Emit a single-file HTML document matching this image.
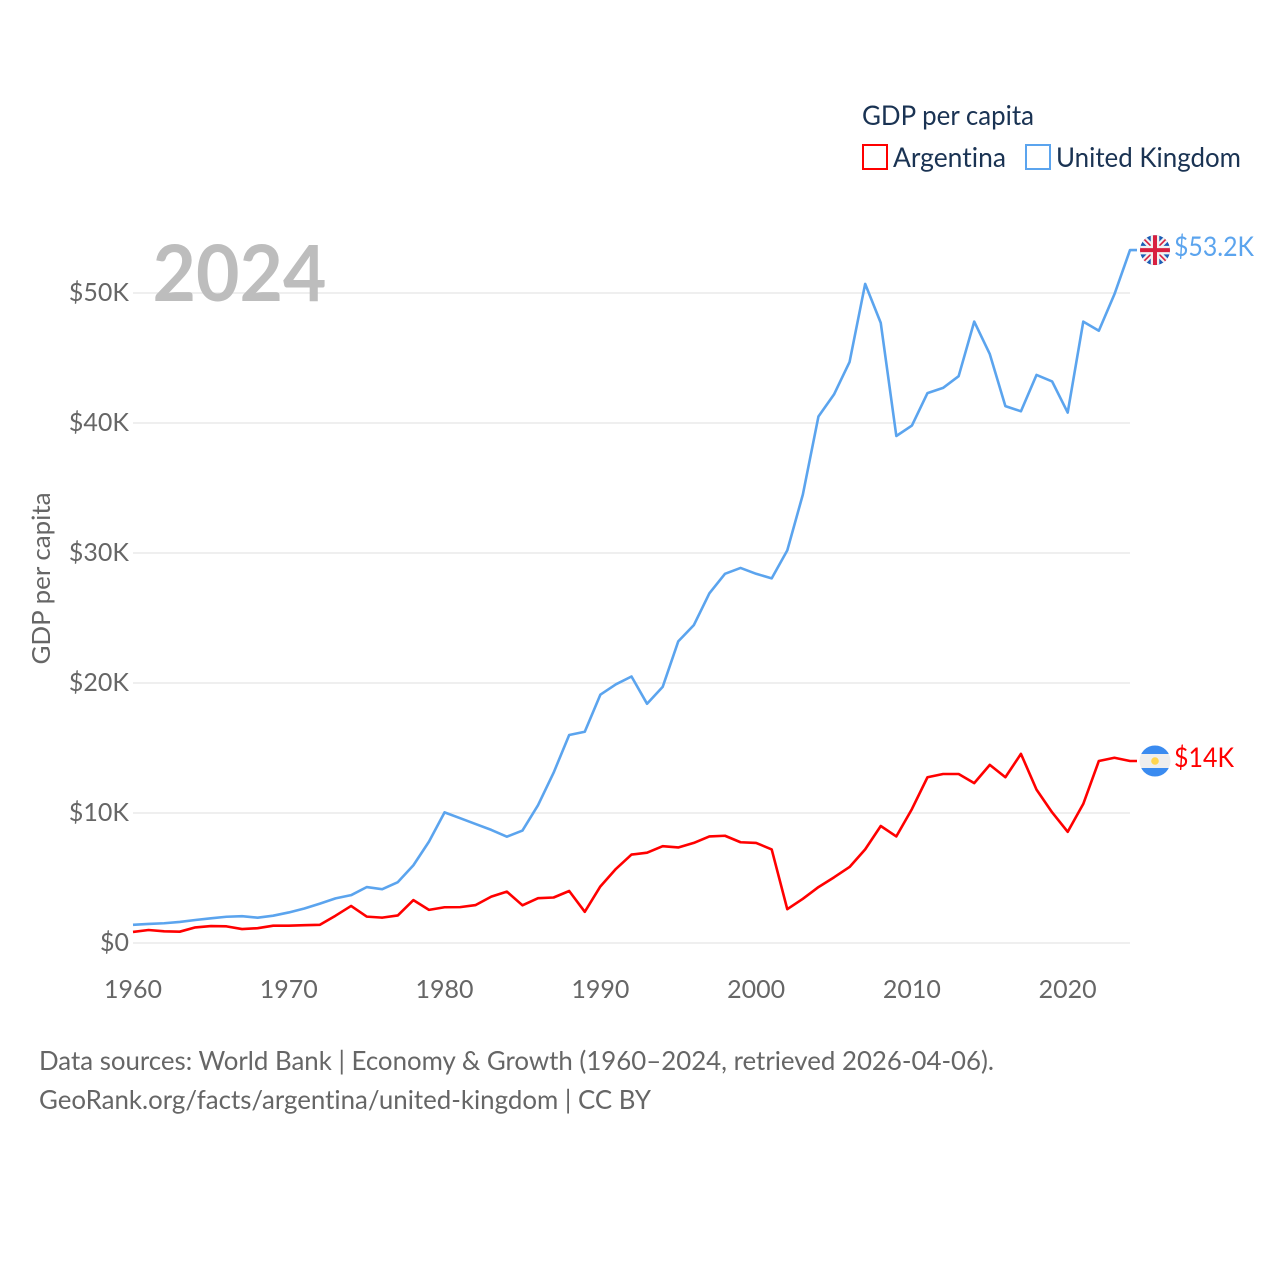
<!DOCTYPE html>
<html lang="en">
<head>
<meta charset="utf-8">
<title>GDP per capita: Argentina vs United Kingdom</title>
<style>
html,body{margin:0;padding:0;background:#fff;}
#chart{display:block;width:1280px;height:1280px;}
text{font-family:"Lato","Carlito","Liberation Sans",sans-serif;font-variant-ligatures:none;}
</style>
</head>
<body>
<svg id="chart" xmlns="http://www.w3.org/2000/svg" width="1280" height="1280" viewBox="0 0 1280 1280">
  <defs>
    <clipPath id="uk-clip"><circle cx="0" cy="0" r="15"/></clipPath>
    <clipPath id="ar-clip"><circle cx="0" cy="0" r="15.5"/></clipPath>
  </defs>
  <rect width="1280" height="1280" fill="#ffffff"/>
  <g id="grid"></g>
  <text x="152.5" y="301" font-size="78" font-weight="700" fill="#bdbdbd" textLength="174" lengthAdjust="spacingAndGlyphs">2024</text>
  <g id="y-axis"></g>
  <g id="x-axis"></g>
  <text transform="translate(50,578.5) rotate(-90)" text-anchor="middle" font-size="25" fill="#666666" textLength="172" lengthAdjust="spacingAndGlyphs">GDP per capita</text>
  <g id="series"></g>

  <g>
    <text x="862" y="125" font-size="27" fill="#1a3353" textLength="172" lengthAdjust="spacingAndGlyphs">GDP per capita</text>
    <g>
      <rect x="863" y="145" width="24" height="24" fill="none" stroke="#ff0000" stroke-width="2"/>
      <text x="893" y="167" font-size="27" fill="#1a3353" textLength="113" lengthAdjust="spacingAndGlyphs">Argentina</text>
    </g>
    <g>
      <rect x="1026" y="145" width="24" height="24" fill="none" stroke="#5ba4ee" stroke-width="2"/>
      <text x="1056" y="167" font-size="27" fill="#1a3353" textLength="185" lengthAdjust="spacingAndGlyphs">United Kingdom</text>
    </g>
  </g>

  <g id="flag-uk">
    <g clip-path="url(#uk-clip)">
      <rect x="-15" y="-15" width="30" height="30" fill="#1c5cb5"/>
      <path d="M-15,-15L15,15M15,-15L-15,15" stroke="#f2f2f2" stroke-width="6"/>
      <path d="M-15,-15L15,15M15,-15L-15,15" stroke="#d8203f" stroke-width="1.6"/>
      <path d="M0,-15V15M-15,0H15" stroke="#f2f2f2" stroke-width="8.5"/>
      <path d="M0,-15V15M-15,0H15" stroke="#d8203f" stroke-width="4"/>
    </g>
  </g>
  <g id="flag-ar">
    <g clip-path="url(#ar-clip)">
      <rect x="-16" y="-16" width="32" height="32" fill="#eeeeee"/>
      <rect x="-16" y="-16" width="32" height="9" fill="#3a8bf0"/>
      <rect x="-16" y="7" width="32" height="9" fill="#3a8bf0"/>
      <circle cx="0" cy="0" r="3.8" fill="#ffd54f"/>
    </g>
  </g>
  <text id="label-uk" x="1174" font-size="27" fill="#5ba4ee" textLength="80" lengthAdjust="spacingAndGlyphs"></text>
  <text id="label-ar" x="1174" font-size="27" fill="#ff0000" textLength="60" lengthAdjust="spacingAndGlyphs"></text>

  <g>
    <text x="39" y="1070" font-size="26" fill="#666666" textLength="955" lengthAdjust="spacingAndGlyphs">Data sources: World Bank | Economy &amp; Growth (1960–2024, retrieved 2026-04-06).</text>
    <text x="39" y="1109" font-size="26" fill="#666666" textLength="612" lengthAdjust="spacingAndGlyphs">GeoRank.org/facts/argentina/united-kingdom | CC BY</text>
  </g>
</svg>
<script>
const startYear = 1960;
const xTickYears = [1960, 1970, 1980, 1990, 2000, 2010, 2020];
const xTickLabels = ["1960", "1970", "1980", "1990", "2000", "2010", "2020"];
const yTickValues = [0, 10, 20, 30, 40, 50];
const yTickLabels = ["$0", "$10K", "$20K", "$30K", "$40K", "$50K"];
const ukValues = [1.40,1.47,1.52,1.62,1.77,1.90,2.02,2.06,1.95,2.10,2.35,2.65,3.03,3.43,3.68,4.30,4.14,4.68,5.98,7.80,10.05,9.60,9.15,8.70,8.18,8.65,10.6,13.1,16.0,16.25,19.1,19.9,20.5,18.4,19.7,23.2,24.45,26.9,28.4,28.85,28.4,28.05,30.2,34.5,40.5,42.2,44.7,50.7,47.7,39.0,39.8,42.3,42.7,43.6,47.8,45.3,41.3,40.9,43.7,43.2,40.8,47.8,47.1,49.9,53.3];
const argentinaValues = [0.85,1.0,0.9,0.87,1.2,1.3,1.28,1.07,1.14,1.33,1.33,1.37,1.4,2.1,2.85,2.03,1.95,2.12,3.3,2.55,2.75,2.76,2.92,3.57,3.95,2.9,3.45,3.5,4.0,2.4,4.35,5.7,6.8,6.95,7.45,7.35,7.7,8.2,8.25,7.75,7.7,7.2,2.6,3.4,4.3,5.05,5.85,7.2,9.0,8.2,10.3,12.75,13.0,13.0,12.3,13.7,12.75,14.55,11.8,10.05,8.55,10.7,14.0,14.25,14.0];
const ukEndLabel = "$53.2K";
const argentinaEndLabel = "$14K";

const SVG_NS = "http://www.w3.org/2000/svg";
const plotLeft = 133, plotRight = 1130, yZero = 943, pxPerThousand = 13;
const endYear = startYear + ukValues.length - 1;
function xScale(year) {
  return plotLeft + (year - startYear) * (plotRight - plotLeft) / (endYear - startYear);
}
function yScale(value) {
  return yZero - value * pxPerThousand;
}
function make(tag, parent) {
  const el = document.createElementNS(SVG_NS, tag);
  parent.appendChild(el);
  return el;
}

const gridG = document.getElementById("grid");
const yAxisG = document.getElementById("y-axis");
const xAxisG = document.getElementById("x-axis");
const seriesG = document.getElementById("series");

yTickValues.forEach(function (v, i) {
  const line = make("line", gridG);
  
  
  line.setAttribute("x1", plotLeft);
  line.setAttribute("x2", plotRight);
  line.setAttribute("y1", yScale(v));
  line.setAttribute("y2", yScale(v));
  line.setAttribute("stroke", "#eaeaea");
  line.setAttribute("stroke-width", "1.5");

  const label = make("text", yAxisG);
  
  
  label.setAttribute("x", 129);
  label.setAttribute("y", yScale(v) + 8);
  label.setAttribute("text-anchor", "end");
  label.setAttribute("font-size", "25");
  label.setAttribute("fill", "#666666");
  label.textContent = yTickLabels[i];
});

xTickYears.forEach(function (year, i) {
  const label = make("text", xAxisG);
  
  
  label.setAttribute("x", xScale(year));
  label.setAttribute("y", 998);
  label.setAttribute("text-anchor", "middle");
  label.setAttribute("font-size", "25");
  label.setAttribute("fill", "#666666");
  label.textContent = xTickLabels[i];
});

function drawSeries(values, colour, seriesName) {
  const pts = values.map(function (v, i) {
    return xScale(startYear + i).toFixed(2) + "," + yScale(v).toFixed(2);
  });
  const last = values[values.length - 1];
  pts.push((plotRight + 7) + "," + yScale(last).toFixed(2));
  const line = make("polyline", seriesG);
  
  
  line.setAttribute("points", pts.join(" "));
  line.setAttribute("fill", "none");
  line.setAttribute("stroke", colour);
  line.setAttribute("stroke-width", "2.6");
  line.setAttribute("stroke-linejoin", "round");
}
drawSeries(ukValues, "#5ba4ee", "series-line-united-kingdom");
drawSeries(argentinaValues, "#ff0000", "series-line-argentina");

function placeEnd(flagId, labelId, value, text) {
  const y = yScale(value);
  document.getElementById(flagId).setAttribute("transform", "translate(1155," + y + ")");
  const label = document.getElementById(labelId);
  label.setAttribute("y", y + 6);
  label.textContent = text;
}
placeEnd("flag-uk", "label-uk", ukValues[ukValues.length - 1], ukEndLabel);
placeEnd("flag-ar", "label-ar", argentinaValues[argentinaValues.length - 1], argentinaEndLabel);
</script>
</body>
</html>
